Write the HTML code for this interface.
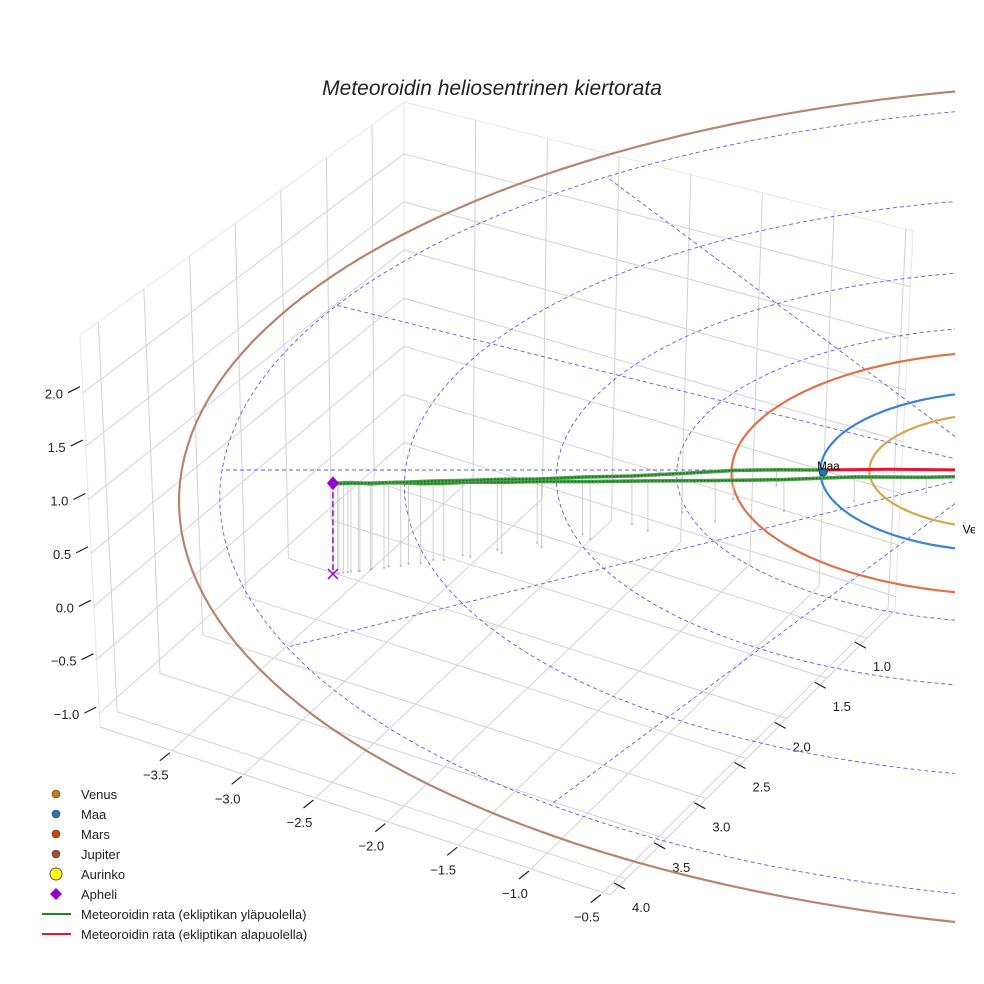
<!DOCTYPE html>
<html><head><meta charset="utf-8"><style>
html,body{margin:0;padding:0;background:#fff;}
svg{display:block;font-family:"Liberation Sans",sans-serif;}
</style></head><body>
<svg id="chart" width="984" height="984" viewBox="0 0 984 984" xmlns="http://www.w3.org/2000/svg">
<defs><clipPath id="axclip"><rect x="0" y="0" width="955" height="984"/></clipPath>
<clipPath id="figclip"><rect x="0" y="0" width="975" height="984"/></clipPath></defs>
<rect x="0" y="0" width="984" height="984" fill="#fff"/>
<g id="grid"></g>
<g id="ticks"></g>
<g id="data" clip-path="url(#axclip)"></g>
<g id="labels" clip-path="url(#figclip)"></g>
<text x="492" y="95" text-anchor="middle" font-size="21" font-style="italic" fill="#222">Meteoroidin heliosentrinen kiertorata</text>
<g id="legend"></g>
</svg>
<script>
// ---- data ----
const zTicks=[-1.0,-0.5,0.0,0.5,1.0,1.5,2.0];
const xTicks=[-3.5,-3.0,-2.5,-2.0,-1.5,-1.0,-0.5];
const yTicks=[1.0,1.5,2.0,2.5,3.0,3.5,4.0];
const planetNames=["Venus","Maa","Mars","Jupiter"];
const planetRadii=[0.72,1.0,1.52,5.2];
const ringRadii=[1,1.85,2.6,3.6,4.9];
const radialAngles=[0,30,60,90,120,150,180,210,240,270,300,330];
const earthPos=[-1.0,0.0,0.0];
const venusPos=[-0.2,0.69,0.0];
const apheli=[-4.0,1.45,0.81];
const legBX=[-4,-3.97,-3.93,-3.88,-3.82,-3.75,-3.66,-3.55,-3.42,-3.27,-3.1,-2.9,-2.65,-2.35,-2.0,-1.6,-1.2,-0.8,-0.4,0.0,0.4];
const legBY=[1.45,1.44,1.43,1.41,1.40,1.38,1.35,1.32,1.28,1.23,1.18,1.12,1.03,0.92,0.8,0.67,0.53,0.4,0.28,0.18,0.1];
const legBZ=[0.81,0.805,0.80,0.79,0.78,0.76,0.75,0.73,0.70,0.67,0.65,0.61,0.56,0.49,0.42,0.34,0.26,0.2,0.12,0.07,0.04];
const legAX=[-4,-3.96,-3.9,-3.83,-3.74,-3.63,-3.5,-3.34,-3.15,-2.93,-2.68,-2.4,-2.1,-1.8,-1.5,-1.25,-1.0];
const legAY=[1.45,1.44,1.42,1.40,1.37,1.33,1.29,1.23,1.16,1.08,0.98,0.86,0.72,0.56,0.38,0.2,0];
const legAZ=[0.81,0.80,0.79,0.78,0.76,0.74,0.72,0.69,0.65,0.61,0.55,0.49,0.41,0.33,0.24,0.13,0];
const redX=[-1.0,-0.6,-0.2,0.2,0.6];
const redY=[0,-0.04,-0.08,-0.11,-0.13];
const redZ=[0,-0.02,-0.05,-0.07,-0.08];

// ---- styles ----
const planetColors=["#d9a54e","#3a82d8","#e07045","#b8856c"];
const NS="http://www.w3.org/2000/svg";
function mk(tag,attrs,parent){const e=document.createElementNS(NS,tag);for(const k in attrs)e.setAttribute(k,attrs[k]);parent.appendChild(e);return e;}

function proj(X,Y,Z){const g=1/(1-0.035*X-0.017*Y);return [1000+186*X*g,470+80*Y*g-125*Z*g];}

const Bb=[404,455],Rb=[895,610],Lb=[100,727],Fb=[610,895];
const Bt=[404,102],Rt=[913,231],Lt=[80,335],Ft=[610,475];
const X0=-4,X1=-0.45,Y0=0.65,Y1=4.2,Z0=-1.13,Z1=2.54;
function bil(P00,P10,P01,P11,u,v){return [0,1].map(i=>P00[i]*(1-u)*(1-v)+P10[i]*u*(1-v)+P01[i]*(1-u)*v+P11[i]*u*v);}
function box(x,y,z){const u=(x-X0)/(X1-X0),v=(y-Y0)/(Y1-Y0),t=(z-Z0)/(Z1-Z0);
 const b=bil(Bb,Rb,Lb,Fb,u,v),tp=bil(Bt,Rt,Lt,Ft,u,v);return [b[0]+(tp[0]-b[0])*t,b[1]+(tp[1]-b[1])*t];}

const grid=document.getElementById('grid');
function gl(p,q,name,col){const l=mk('line',{x1:p[0],y1:p[1],x2:q[0],y2:q[1],stroke:col||'#d2d2d2','stroke-width':1},grid);
 
 }
gl(box(X0,Y1,Z1),box(X0,Y0,Z1),'left-pane-top','#e6e6e6');
gl(box(X0,Y0,Z1),box(X1,Y0,Z1),'back-pane-top','#e6e6e6');
gl(box(X0,Y0,Z0),box(X0,Y0,Z1),'back-edge','#e6e6e6');
gl(box(X0,Y1,Z0),box(X0,Y1,Z1),'left-edge','#e6e6e6');
gl(box(X1,Y0,Z0),box(X1,Y0,Z1),'right-edge','#e6e6e6');
zTicks.forEach(z=>{gl(box(X0,Y1,z),box(X0,Y0,z),'z-gridline-left');gl(box(X0,Y0,z),box(X1,Y0,z),'z-gridline-back');});
xTicks.forEach(x=>{gl(box(x,Y0,Z0),box(x,Y0,Z1),'x-gridline-back');gl(box(x,Y0,Z0),box(x,Y1,Z0),'x-gridline-floor');});
yTicks.forEach(y=>{gl(box(X0,y,Z0),box(X0,y,Z1),'y-gridline-left');gl(box(X0,y,Z0),box(X1,y,Z0),'y-gridline-floor');});
gl(box(X0,Y1,Z0),box(X1,Y1,Z0),'x-axis-line','#cfcfcf');
gl(box(X1,Y0,Z0),box(X1,Y1,Z0),'y-axis-line','#cfcfcf');

const tk=document.getElementById('ticks');
function fmt(v){return (v<0?'\u2212':'')+Math.abs(v).toFixed(1);}
zTicks.forEach(z=>{const p=box(X0,Y1,z);
 const l=mk('line',{x1:p[0]-3,y1:p[1]-6,x2:p[0]-15,y2:p[1],stroke:'#222','stroke-width':1.2},tk);
 
 
 const t=mk('text',{x:p[0]-20,y:p[1]+6,'text-anchor':'end','font-size':13,fill:'#222'},tk);t.textContent=fmt(z);
 
 });
xTicks.forEach(x=>{const p=box(x,Y1,Z0);
 const l=mk('line',{x1:p[0]-2,y1:p[1]+2,x2:p[0]-12,y2:p[1]+10,stroke:'#222','stroke-width':1.2},tk);
 
 
 const t=mk('text',{x:p[0]-16,y:p[1]+29,'text-anchor':'middle','font-size':13,fill:'#222'},tk);t.textContent=fmt(x);
 
 });
yTicks.forEach(y=>{const p=box(X1,y,Z0);
 const l=mk('line',{x1:p[0]-12,y1:p[1]+4,x2:p[0]-1,y2:p[1]+10,stroke:'#222','stroke-width':1.2},tk);
 
 
 const t=mk('text',{x:p[0]+6,y:p[1]+33,'text-anchor':'start','font-size':13,fill:'#222'},tk);t.textContent=fmt(y);
 
 });

const dg=document.getElementById('data');
function circlePts(r){const a=[];for(let i=0;i<=180;i++){const th=i/180*2*Math.PI;a.push(proj(r*Math.cos(th),r*Math.sin(th),0));}return a;}
function ptsStr(a){return a.map(p=>p[0].toFixed(1)+','+p[1].toFixed(1)).join(' ');}
ringRadii.forEach(r=>{const e=mk('polyline',{points:ptsStr(circlePts(r)),fill:'none',stroke:'#5b5bef','stroke-width':0.9,'stroke-dasharray':'4,3'},dg);
 
 });
radialAngles.forEach(a=>{const th=a*Math.PI/180,R=ringRadii[ringRadii.length-1];const p=proj(0,0,0),q=proj(R*Math.cos(th+Math.PI),R*Math.sin(th+Math.PI),0);
 const e=mk('line',{x1:p[0],y1:p[1],x2:q[0],y2:q[1],stroke:'#5b5bef','stroke-width':0.9,'stroke-dasharray':'4,3'},dg);
 
 });
planetRadii.forEach((r,i)=>{const e=mk('polyline',{points:ptsStr(circlePts(r)),fill:'none',stroke:planetColors[i],'stroke-width':2.2},dg);
 
 });
function stems(X,Y,Z){X.forEach((x,i)=>{const t=proj(x,Y[i],Z[i]),b=proj(x,Y[i],0);
 const s=mk('line',{x1:t[0],y1:t[1],x2:b[0],y2:b[1],stroke:'#cfcfcf','stroke-width':1},dg);
 
 
 const d=mk('circle',{cx:b[0],cy:b[1],r:1.1,fill:'#bbb'},dg);
 
 });}
stems(legBX,legBY,legBZ);stems(legAX,legAY,legAZ);
function path(X,Y,Z,col,w,name,dash){const pts=X.map((x,i)=>proj(x,Y[i],Z[i]));
 const at={points:ptsStr(pts),fill:'none',stroke:col,'stroke-width':w,'stroke-linejoin':'round'};
 if(dash)at['stroke-dasharray']=dash;
 const e=mk('polyline',at,dg);
 
 
 return pts;}
path(legBX,legBY,legBZ,'#4aa24a',3.6,'meteoroid-path-above-b');
path(legBX,legBY,legBZ,'#156b15',1.3,'meteoroid-path-above-b-core','2,1.5');
path(legAX,legAY,legAZ,'#4aa24a',3.6,'meteoroid-path-above-a');
path(legAX,legAY,legAZ,'#156b15',1.3,'meteoroid-path-above-a-core','2,1.5');
path(redX,redY,redZ,'#e8142c',3,'meteoroid-path-below');
const ap=proj(apheli[0],apheli[1],apheli[2]),apf=proj(apheli[0],apheli[1],0);
let e=mk('line',{x1:ap[0],y1:ap[1],x2:apf[0],y2:apf[1],stroke:'#9400d3','stroke-width':1.5,'stroke-dasharray':'6,3'},dg);


e=mk('path',{d:`M${apf[0]-5},${apf[1]-5}L${apf[0]+5},${apf[1]+5}M${apf[0]-5},${apf[1]+5}L${apf[0]+5},${apf[1]-5}`,stroke:'#9400d3','stroke-width':1.5,fill:'none'},dg);


e=mk('path',{d:`M${ap[0]},${ap[1]-7}L${ap[0]+6},${ap[1]}L${ap[0]},${ap[1]+7}L${ap[0]-6},${ap[1]}Z`,fill:'#9400d3'},dg);


const ep=proj(earthPos[0],earthPos[1],earthPos[2]);
e=mk('circle',{cx:ep[0]+3,cy:ep[1]+2,r:4,fill:'#1f77b4',stroke:'#0a3a66','stroke-width':0.8},dg);


const vp=proj(venusPos[0],venusPos[1],venusPos[2]);
e=mk('circle',{cx:vp[0],cy:vp[1],r:4,fill:'#c97d10'},dg);


const lb=document.getElementById('labels');
let t=mk('text',{x:ep[0]-3,y:ep[1],'font-size':11.5,fill:'#000'},lb);t.textContent='Maa';


t=mk('text',{x:vp[0],y:vp[1]+8,'font-size':12,fill:'#000'},lb);t.textContent='Venus';



const lg=document.getElementById('legend');
const legLabels=["Venus","Maa","Mars","Jupiter","Aurinko","Apheli","Meteoroidin rata (ekliptikan yläpuolella)","Meteoroidin rata (ekliptikan alapuolella)"];
const legKinds=["dot","dot","dot","dot","sun","diamond","line","line"];
const legColors=["#c97d10","#1f77b4","#cc4400","#a0522d","#ffff00","#9400d3","#1a8a1a","#e8142c"];
legLabels.forEach((lab,i)=>{const y=794+i*20;
 const g=mk('g',{},lg);
 
 
 const k=legKinds[i];
 if(k==='dot')mk('circle',{cx:56,cy:y,r:4,fill:legColors[i],stroke:'#333','stroke-width':0.6},g);
 else if(k==='sun')mk('circle',{cx:56,cy:y,r:6,fill:legColors[i],stroke:'#555','stroke-width':1},g);
 else if(k==='diamond')mk('path',{d:`M56,${y-6}L62,${y}L56,${y+6}L50,${y}Z`,fill:legColors[i]},g);
 else mk('line',{x1:42,y1:y,x2:71,y2:y,stroke:legColors[i],'stroke-width':2},g);
 const tx=mk('text',{x:81,y:y+5,'font-size':13,fill:'#222'},g);tx.textContent=lab;});
</script>
</body></html>
